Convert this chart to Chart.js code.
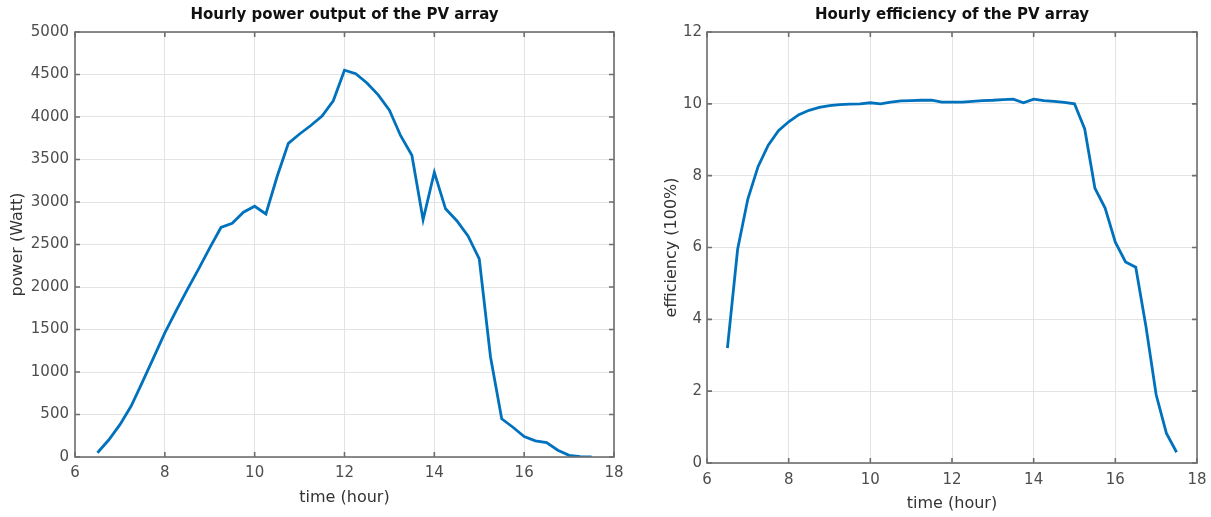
<!DOCTYPE html>
<html>
<head>
<meta charset="utf-8">
<script src="https://cdn.jsdelivr.net/npm/chart.js@4.4.1/dist/chart.umd.min.js"></script>
<style>
  body { margin: 0; background: #fff; }
  #wrap { position: relative; width: 1211px; height: 517px; overflow: hidden; }
  canvas { position: absolute; top: 0; }
  #power { left: 0; }
  #eff { left: 620px; }
</style>
</head>
<body>
<div id="wrap">
  <canvas id="power" width="650" height="517"></canvas>
  <canvas id="eff" width="591" height="517"></canvas>
</div>
<script>
// time of day, every quarter hour
const hours = [6.5, 6.75, 7, 7.25, 7.5, 7.75, 8, 8.25, 8.5, 8.75, 9, 9.25, 9.5, 9.75,
  10, 10.25, 10.5, 10.75, 11, 11.25, 11.5, 11.75, 12, 12.25, 12.5, 12.75, 13, 13.25,
  13.5, 13.75, 14, 14.25, 14.5, 14.75, 15, 15.25, 15.5, 15.75, 16, 16.25, 16.5, 16.75,
  17, 17.25, 17.5];

// array output, W
const powerWatt = [50, 200, 380, 600, 880, 1170, 1460, 1720, 1970, 2210, 2460, 2700, 2750,
  2880, 2950, 2860, 3300, 3690, 3800, 3900, 4010, 4190, 4550, 4510, 4400, 4260, 4080, 3780,
  3550, 2790, 3350, 2920, 2780, 2600, 2330, 1180, 450, 350, 240, 190, 170, 80, 20, 5, 0];

// array efficiency, %
const efficiencyPct = [3.2, 5.95, 7.35, 8.25, 8.85, 9.25, 9.5, 9.7, 9.82, 9.9, 9.95, 9.98,
  9.99, 10.0, 10.03, 10.0, 10.05, 10.08, 10.09, 10.1, 10.1, 10.05, 10.05, 10.05, 10.07, 10.09,
  10.1, 10.12, 10.13, 10.03, 10.13, 10.09, 10.07, 10.04, 10.0, 9.3, 7.65, 7.1, 6.15, 5.6, 5.45,
  3.8, 1.9, 0.83, 0.3];

const timeTicks = [6, 8, 10, 12, 14, 16, 18];
const powerTicks = [0, 500, 1000, 1500, 2000, 2500, 3000, 3500, 4000, 4500, 5000];
const effTicks = [0, 2, 4, 6, 8, 10, 12];

const FONT = '"DejaVu Sans", "Liberation Sans", sans-serif';
const LABEL_GREY = '#4d4d4d';
const BOX_GREY = '#6e6e6e';

// box around the axes, inward tick marks on all four sides, title on top
const framePlugin = {
  id: 'frame',
  afterDraw(chart, args, opts) {
    const { ctx, chartArea: a, scales: { x, y } } = chart;
    const len = 5;
    ctx.save();
    ctx.strokeStyle = BOX_GREY;
    ctx.lineWidth = 1.6;
    ctx.beginPath();
    x.ticks.forEach(t => {
      const px = x.getPixelForValue(t.value);
      ctx.moveTo(px, a.bottom); ctx.lineTo(px, a.bottom - len);
      ctx.moveTo(px, a.top); ctx.lineTo(px, a.top + len);
    });
    y.ticks.forEach(t => {
      const py = y.getPixelForValue(t.value);
      ctx.moveTo(a.left, py); ctx.lineTo(a.left + len, py);
      ctx.moveTo(a.right, py); ctx.lineTo(a.right - len, py);
    });
    ctx.stroke();
    ctx.strokeRect(a.left, a.top, a.right - a.left, a.bottom - a.top);

    ctx.fillStyle = '#111';
    ctx.font = 'bold 15px ' + FONT;
    ctx.textAlign = 'center';
    ctx.textBaseline = 'middle';
    ctx.fillText(opts.text, (a.left + a.right) / 2, 15);
    ctx.restore();
  }
};

function drawPanel(id, values, yTicks, yTitle, title, box) {
  return new Chart(document.getElementById(id), {
    type: 'line',
    data: {
      datasets: [{
        data: hours.map((h, i) => ({ x: h, y: values[i] })),
        borderColor: '#0072bd',
        borderWidth: 2.8,
        pointRadius: 0,
        tension: 0,
        fill: false
      }]
    },
    options: {
      responsive: false,
      animation: false,
      events: [],
      layout: { padding: { top: box.top, right: box.right, bottom: 0, left: 0 } },
      plugins: {
        legend: { display: false },
        tooltip: { enabled: false },
        frame: { text: title }
      },
      scales: {
        x: {
          type: 'linear',
          min: 6, max: 18,
          afterBuildTicks: s => { s.ticks = timeTicks.map(v => ({ value: v })); },
          afterFit: s => { s.height = box.xHeight; s.paddingLeft = 0; s.paddingRight = 0; },
          grid: { color: '#e3e3e3', lineWidth: 1, drawTicks: false },
          border: { display: false },
          ticks: {
            color: LABEL_GREY, font: { family: FONT, size: 15 }, padding: box.xPad, maxRotation: 0,
            callback: v => String(v)
          },
          title: {
            display: true, text: 'time (hour)', color: '#333',
            font: { family: FONT, size: 16 }, padding: { top: 0, bottom: box.xTitlePad }
          }
        },
        y: {
          min: yTicks[0], max: yTicks[yTicks.length - 1],
          afterBuildTicks: s => { s.ticks = yTicks.map(v => ({ value: v })); },
          afterFit: s => { s.width = box.yWidth; s.paddingTop = 0; s.paddingBottom = 0; },
          grid: { color: '#e3e3e3', lineWidth: 1, drawTicks: false },
          border: { display: false },
          ticks: {
            color: LABEL_GREY, font: { family: FONT, size: 15 }, padding: box.yPad,
            callback: v => String(v)
          },
          title: {
            display: true, text: yTitle, color: '#333',
            font: { family: FONT, size: 16 }, padding: { top: box.yTitlePad, bottom: 0 }
          }
        }
      }
    },
    plugins: [framePlugin]
  });
}

drawPanel('power', powerWatt, powerTicks, 'power (Watt)', 'Hourly power output of the PV array',
  { top: 32, right: 36, xHeight: 60, yWidth: 75, xPad: 7, yPad: 6, xTitlePad: 10, yTitlePad: 8 });

drawPanel('eff', efficiencyPct, effTicks, 'efficiency (100%)', 'Hourly efficiency of the PV array',
  { top: 32, right: 14, xHeight: 54, yWidth: 87, xPad: 8, yPad: 5, xTitlePad: 4, yTitlePad: 42 });
</script>
</body>
</html>
